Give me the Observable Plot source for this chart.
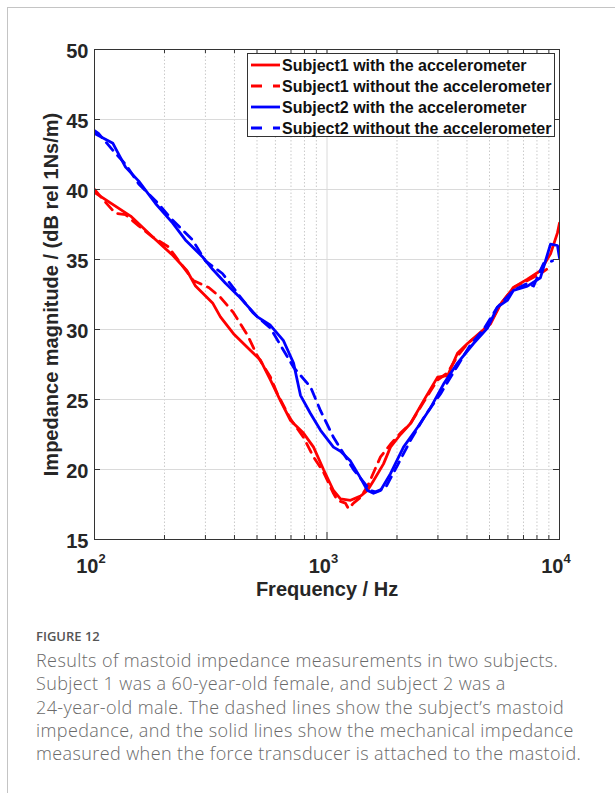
<!DOCTYPE html>
<html><head><meta charset="utf-8">
<script src="https://cdn.jsdelivr.net/npm/d3@7"></script>
<script src="https://cdn.jsdelivr.net/npm/@observablehq/plot@0.6"></script>
<style>
html,body{margin:0;padding:0;background:#fff;}
body{width:615px;height:793px;position:relative;overflow:hidden;}
#frame{position:absolute;left:7px;top:7px;width:700px;height:900px;border-left:1px solid #c4c4c4;border-top:1px solid #c4c4c4;}
#chart{position:absolute;left:0;top:0;}
#legend{position:absolute;left:247px;top:53px;width:306px;height:82px;border:1px solid #333;background:#fff;font:bold 16px "Liberation Sans",Arial,sans-serif;color:#111;}
.row{position:absolute;left:0;height:22px;line-height:22px;white-space:nowrap;}
.row svg{position:absolute;left:3px;top:0;}
.row span{position:absolute;left:34px;top:0;}
#figlabel{position:absolute;left:36px;top:627px;font:600 13px "Open Sans",sans-serif;color:#555;}
#caption{position:absolute;left:36px;top:649px;font:300 18px/23.3px "Open Sans",sans-serif;letter-spacing:0.4px;color:#6a6a6a;}
#caption div{white-space:nowrap;}
</style></head>
<body>
<div id="frame"></div>
<div id="chart"></div>
<div id="legend"></div>
<div id="figlabel">FIGURE 12</div>
<div id="caption">
<div>Results of mastoid impedance measurements in two subjects.</div>
<div>Subject 1 was a 60-year-old female, and subject 2 was a</div>
<div>24-year-old male. The dashed lines show the subject’s mastoid</div>
<div>impedance, and the solid lines show the mechanical impedance</div>
<div>measured when the force transducer is attached to the mastoid.</div>
</div>
<script>
// ---- data (frequency in Hz, impedance magnitude in dB rel 1Ns/m) ----
const freqS1With = [100,143,178,217,250,272,322,348,396,469,518,571,631,697,792,875,966,1066,1143,1262,1393,1493,1585,1750,1875,2070,2290,2600,2990,3300,3640,4020,4570,5050,5570,6340,7280,8280,9150,9800,10000];
const magS1With  = [39.8,38.1,36.6,35.3,34.2,33.1,31.9,30.9,29.7,28.5,27.8,26.4,24.9,23.5,22.6,21.6,20.0,18.5,17.9,17.8,18.1,18.5,19.2,20.4,21.6,22.5,23.3,24.9,26.6,26.7,28.3,29.0,29.8,30.4,31.8,33.0,33.6,34.2,35.4,36.9,37.6];

const freqS1Without = [100,110,123,136,155,178,208,266,310,348,396,455,502,571,612,697,792,875,966,1066,1109,1200,1237,1300,1393,1493,1699,1875,2070,2290,2600,2990,3300,3640,4020,4570,5050,5570,6340,7280,8280,8800];
const magS1Without  = [40.0,39.2,38.3,38.2,37.4,36.6,35.9,33.5,33.0,32.3,31.2,29.6,28.1,26.6,25.4,23.6,22.3,20.9,19.8,18.3,17.8,17.6,17.2,17.6,18.0,18.8,20.9,21.8,22.6,23.3,24.8,26.4,26.9,28.1,29.0,29.7,30.5,31.8,33.0,33.5,34.0,34.3];

const freqS2With = [100,120,136,155,183,217,246,291,322,366,416,502,571,650,718,769,849,938,1066,1143,1262,1393,1493,1585,1699,1875,2133,2450,2787,3171,3640,4267,4900,5410,5980,6340,7280,8280,9150,9800,10000];
const magS2With  = [44.0,43.3,41.6,40.6,39.0,37.6,36.4,35.2,34.3,33.3,32.4,30.9,30.3,29.2,27.6,25.3,24.0,22.8,21.6,21.3,20.6,19.4,18.5,18.3,18.5,19.7,21.6,23.0,24.4,26.1,27.6,29.0,30.1,31.6,32.1,32.8,33.1,33.7,36.1,36.0,35.1];

const freqS2Without = [100,104,120,136,155,183,217,264,300,355,425,480,571,718,849,938,1066,1300,1538,1617,1785,2010,2290,2653,3077,3640,4141,4710,5410,6340,7280,7730,8530,9330];
const magS2Without  = [44.2,44.0,42.8,41.8,40.4,39.2,37.8,36.4,34.9,34.0,32.3,31.2,30.1,27.3,25.9,24.2,22.3,20.0,18.5,18.4,18.7,20.3,22.1,23.9,25.4,27.4,28.9,30.0,31.6,32.8,33.3,33.1,34.7,34.9];

const xMajorTicks = [100, 1000, 10000];
const xExponents = ["2", "3", "4"];
const xMinorTicks = [200,300,400,500,600,700,800,900,2000,3000,4000,5000,6000,7000,8000,9000];
const yTicks = [15,20,25,30,35,40,45,50];
const yGrid = [20,25,30,35,40,45];

const seriesNames = ["Subject1 with the accelerometer","Subject1 without the accelerometer","Subject2 with the accelerometer","Subject2 without the accelerometer"];
const seriesColors = ["#ff0000","#ff0000","#0000ff","#0000ff"];
const seriesDashed = [false,true,false,true];

const xLabel = "Frequency / Hz";
const yLabel = "Impedance magnitude / (dB rel 1Ns/m)";

// ---- build tables ----
const toRows = (fs, vs) => fs.map((f, i) => ({f, v: vs[i]}));
const series = [
  toRows(freqS1With, magS1With),
  toRows(freqS1Without, magS1Without),
  toRows(freqS2With, magS2With),
  toRows(freqS2Without, magS2Without)
];

const W = 615, H = 610, ML = 94, MR = 56, MT = 49, MB = 71;
const PW = W - ML - MR, PH = H - MT - MB;
const DASH = "10,7";
const font = "'Liberation Sans', Arial, Helvetica, sans-serif";
const txt = {fill: "#262626", fontWeight: "bold", lineAnchor: "middle"};

const lineMarks = series.map((rows, i) => Plot.line(rows, {
  x: "f", y: "v", stroke: seriesColors[i], strokeWidth: 2.8,
  strokeDasharray: seriesDashed[i] ? DASH : null, clip: true
}));

const chart = Plot.plot({
  width: W, height: H,
  marginLeft: ML, marginRight: MR, marginTop: MT, marginBottom: MB,
  style: {background: "transparent", fontFamily: font, fontSize: "20px", fontWeight: "bold", color: "#262626", overflow: "visible"},
  x: {type: "log", domain: [100, 10000], axis: null},
  y: {type: "linear", domain: [15, 50], axis: null},
  marks: [
    Plot.ruleX(xMinorTicks, {x: d => d, stroke: "#bdbdbd", strokeWidth: 0.8, strokeDasharray: "1.5,2"}),
    Plot.ruleX([1000], {x: d => d, stroke: "#dadada", strokeWidth: 1}),
    Plot.ruleY(yGrid, {y: d => d, stroke: "#dadada", strokeWidth: 1}),
    ...lineMarks,
    // inward ticks
    Plot.ruleX(xMinorTicks, {x: d => d, insetBottom: PH - 4, stroke: "#333"}),
    Plot.ruleX(xMinorTicks, {x: d => d, insetTop: PH - 4, stroke: "#333"}),
    Plot.ruleX(xMajorTicks, {x: d => d, insetBottom: PH - 7, stroke: "#333"}),
    Plot.ruleX(xMajorTicks, {x: d => d, insetTop: PH - 7, stroke: "#333"}),
    Plot.ruleY(yTicks, {y: d => d, insetRight: PW - 6, stroke: "#333"}),
    Plot.ruleY(yTicks, {y: d => d, insetLeft: PW - 6, stroke: "#333"}),
    Plot.frame({stroke: "#333", strokeWidth: 1}),
    // tick labels
    Plot.text(yTicks, {...txt, y: d => d, text: d => String(d), frameAnchor: "left", dx: -6, dy: 2, textAnchor: "end", fontSize: 20}),
    Plot.text(xMajorTicks, {...txt, x: d => d, text: d => "10", frameAnchor: "bottom", dx: 4, dy: 27.5, textAnchor: "end", fontSize: 20}),
    Plot.text(xMajorTicks, {...txt, x: d => d, text: (d, i) => xExponents[i], frameAnchor: "bottom", dx: 4, dy: 19.5, textAnchor: "start", fontSize: 13}),
    // axis labels
    Plot.text([xLabel], {...txt, text: d => d, frameAnchor: "bottom", dy: 50.5, textAnchor: "middle", fontSize: 20}),
    Plot.text([yLabel], {...txt, text: d => d, frameAnchor: "left", dx: -43, rotate: -90, textAnchor: "middle", fontSize: 20})
  ]
});
document.getElementById("chart").appendChild(chart);

// legend
const legend = document.getElementById("legend");
const rowCenters = [12, 33, 54, 75];
seriesNames.forEach((name, i) => {
  const row = document.createElement("div");
  row.className = "row";
  row.style.top = (rowCenters[i] - 11) + "px";
  row.innerHTML = `<svg width="30" height="22"><line x1="0" x2="29" y1="10" y2="10" stroke="${seriesColors[i]}" stroke-width="2.8" ${seriesDashed[i] ? 'stroke-dasharray="11,11"' : ''}/></svg><span>${name}</span>`;
  legend.appendChild(row);
});
</script>
</body></html>
